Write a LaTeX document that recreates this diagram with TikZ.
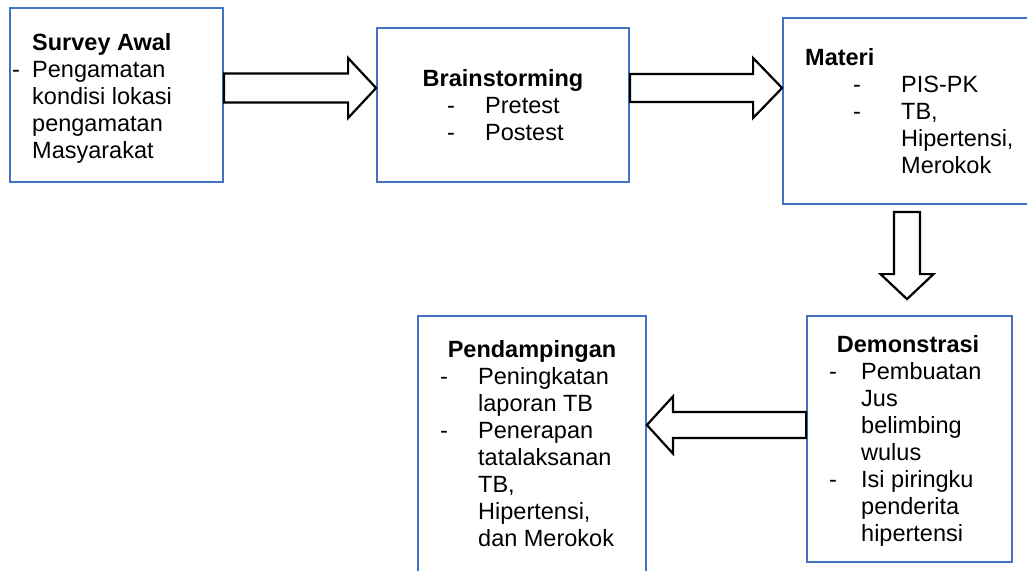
\documentclass[tikz,border=0pt]{standalone}
\usepackage{fontspec}
\setmainfont{Liberation Sans}
\usepackage{xcolor}
\usepackage{tikz}
\usetikzlibrary{calc}
\usetikzlibrary{positioning}

\definecolor{boxblue}{HTML}{4472C4}
\newcommand{\fs}{\fontsize{23.5}{27}\selectfont}
% hollow block arrow: tail, tip, half shaft, half head, head length
\newcommand{\hollowarrow}[5]{%
  \draw[bigarrow] let \p1=#1, \p2=#2, \n1={atan2(\y2-\y1,\x2-\x1)}, \n2={veclen(\x2-\x1,\y2-\y1)} in
    {[shift={(\p1)}, rotate=\n1] (0pt,#3pt) -- ({\n2-#5pt},#3pt) -- ({\n2-#5pt},#4pt) -- ({\n2+0pt},0pt)
      -- ({\n2-#5pt},-#4pt) -- ({\n2-#5pt},-#3pt) -- (0pt,-#3pt) -- cycle};}

\begin{document}
\begin{tikzpicture}[x=1pt,y=-1pt,
  panel/.style={draw=boxblue, line width=1.8pt, inner sep=0pt},
  itemlist/.style={inner sep=0pt, anchor=base west, font=\fs},
  heading/.style={inner sep=0pt, anchor=base, font=\fs\bfseries},
  bigarrow/.style={draw=black, line width=2.2pt, fill=white, miter limit=20}]
  \path[use as bounding box, fill=white] (0,0) rectangle (1027,570);

  \node[panel, minimum width=213pt, minimum height=174pt] (survey) at (116.5,95) {};
  \node[panel, minimum width=252pt, minimum height=154pt] (brain) at (503,105) {};
  \node[panel, minimum width=257pt, minimum height=186pt] (materi) at (911.5,111) {};
  \node[panel, minimum width=205pt, minimum height=246pt] (demo) at (909.5,439) {};
  \node[panel, minimum width=228pt, minimum height=274pt] (pend) at (532,453) {};

  \node[itemlist] (survey-txt) at (12,50) {\begin{tabular}[t]{@{}p{20pt}@{}l@{}}
    & \textbf{Survey Awal}\\
    - & Pengamatan\\
    & kondisi lokasi\\
    & pengamatan\\
    & Masyarakat
  \end{tabular}};

  \node[heading] (brain-head) at (503,86) {Brainstorming};
  \node[itemlist] (brain-txt) at (447,113) {\begin{tabular}[t]{@{}p{38pt}@{}l@{}}
    - & Pretest\\
    - & Postest
  \end{tabular}};

  \node[heading, anchor=base west] (materi-head) at (805,65) {Materi};
  \node[itemlist] (materi-txt) at (853,92) {\begin{tabular}[t]{@{}p{48pt}@{}l@{}}
    - & PIS-PK\\
    - & TB,\\
    & Hipertensi,\\
    & Merokok
  \end{tabular}};

  \node[heading] (demo-head) at (908,352) {Demonstrasi};
  \node[itemlist] (demo-txt) at (829,379) {\begin{tabular}[t]{@{}p{32pt}@{}l@{}}
    - & Pembuatan\\
    & Jus\\
    & belimbing\\
    & wulus\\
    - & Isi piringku\\
    & penderita\\
    & hipertensi
  \end{tabular}};

  \node[heading] (pend-head) at (532,357) {Pendampingan};
  \node[itemlist] (pend-txt) at (440,384) {\begin{tabular}[t]{@{}p{38pt}@{}l@{}}
    - & Peningkatan\\
    & laporan TB\\
    - & Penerapan\\
    & tatalaksanan\\
    & TB,\\
    & Hipertensi,\\
    & dan Merokok
  \end{tabular}};

  \hollowarrow{($(survey.east)+(0,-7)$)}{($(brain.west)+(0,-17)$)}{14.5}{30}{28}
  \hollowarrow{($(brain.east)+(0,-17)$)}{($(materi.west)+(0,-23)$)}{14}{30}{29}
  \hollowarrow{($(materi.south)+(-4.5,7)$)}{($(demo.north)+(-2.5,-16)$)}{13}{26.5}{25}
  \hollowarrow{($(demo.west)+(0,-14)$)}{($(pend.east)+(0,-28)$)}{13}{28.5}{26}
\end{tikzpicture}
\end{document}
